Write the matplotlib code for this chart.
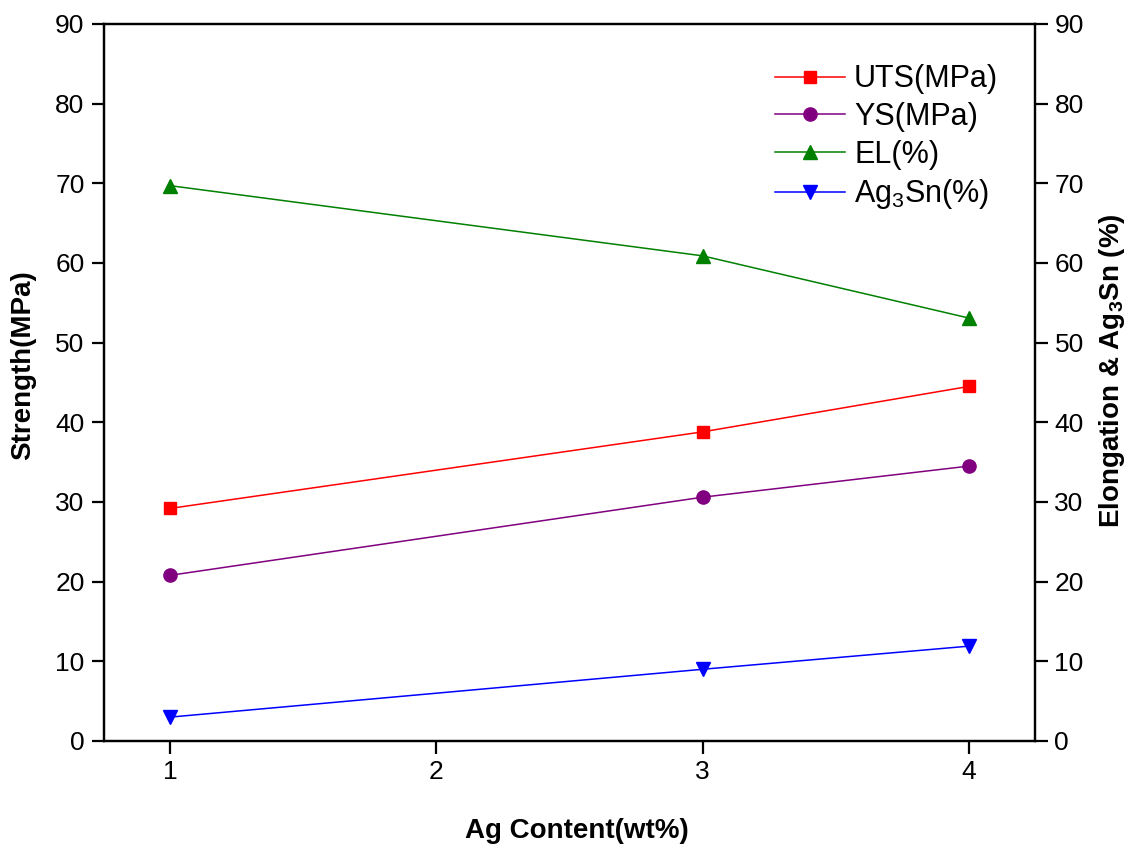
import matplotlib
matplotlib.use('Agg')
import matplotlib.pyplot as plt

plt.rcParams['font.family'] = ['Liberation Sans', 'DejaVu Sans']
plt.rcParams['mathtext.fontset'] = 'custom'
plt.rcParams['mathtext.rm'] = 'Liberation Sans'
plt.rcParams['mathtext.bf'] = 'Liberation Sans:bold'
plt.rcParams['mathtext.default'] = 'rm'

# data
ag = [1, 3, 4]
uts = [29.2, 38.8, 44.5]
ys = [20.8, 30.6, 34.5]
el = [69.7, 60.9, 53.1]
ag3sn = [3.0, 9.0, 11.9]

xticks = [1, 2, 3, 4]
yticks = list(range(0, 91, 10))


def style_axis(ax):
	for s in ax.spines.values():
		s.set_linewidth(1.6)
	ax.tick_params(direction='out', length=9, width=1.6, labelsize=19, pad=5)


f = plt.figure(figsize=(11.39, 8.48), dpi=100)
ax = f.add_axes([0.0913, 0.1262, 0.8174, 0.8455])
ax2 = ax.twinx()

l1, = ax.plot(ag, uts, '-s', color='#ff0000', lw=1.1, markersize=8.5, label='UTS(MPa)')
l2, = ax.plot(ag, ys, '-o', color='#800080', lw=1.1, markersize=9.5, label='YS(MPa)')
l3, = ax2.plot(ag, el, '-^', color='#008000', lw=1.1, markersize=10.5, label='EL(%)')
l4, = ax2.plot(ag, ag3sn, '-v', color='#0000ff', lw=1.1, markersize=10.5, label='Ag$_3$Sn(%)')

for a in (ax, ax2):
	a.set_xlim(0.75, 4.25)
	a.set_ylim(0, 90)
	a.set_yticks(yticks)
	style_axis(a)
ax.set_xticks(xticks)

ax.set_xlabel('Ag Content(wt%)', fontsize=20, fontweight='bold')
ax.xaxis.set_label_coords(0.508, -0.108)
ax.set_ylabel('Strength(MPa)', fontsize=20, fontweight='bold')
ax.yaxis.set_label_coords(-0.073, 0.524)
ax2.set_ylabel(r'Elongation & Ag$_\mathbf{3}$Sn (%)', fontsize=20, fontweight='bold')
ax2.yaxis.set_label_coords(1.067, 0.517)

ax2.legend(handles=[l1, l2, l3, l4], loc='upper right', bbox_to_anchor=(0.99, 0.982),
	frameon=False, fontsize=22, handlelength=2.3, handletextpad=0.3, labelspacing=0.25)

f.savefig('out.png', dpi=100)
